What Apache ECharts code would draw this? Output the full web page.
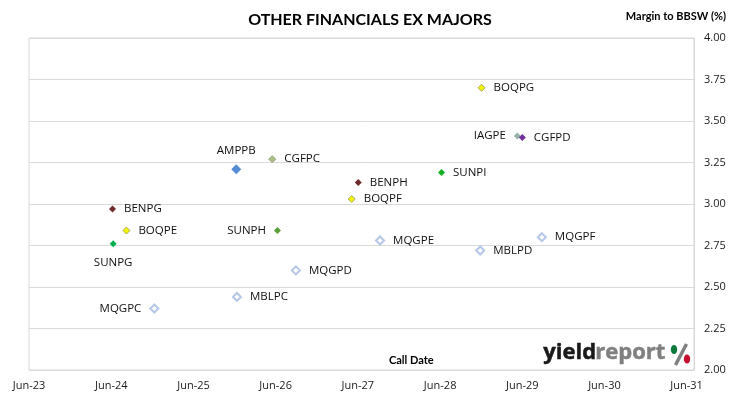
<!DOCTYPE html>
<html>
<head>
<meta charset="utf-8">
<script src="https://cdn.jsdelivr.net/npm/echarts@6/dist/echarts.min.js"></script>
<style>
html,body{margin:0;padding:0;background:#fff;}
#chart{width:730px;height:399px;}
</style>
</head>
<body>
<div id="chart"></div>
<script>
// ---- data ----
const bondNames = ['BENPG','SUNPG','BOQPE','MQGPC','AMPPB','MBLPC','CGFPC','SUNPH','MQGPD','BOQPF','BENPH','MQGPE','SUNPI','MBLPD','BOQPG','IAGPE','CGFPD','MQGPF'];
const callDates = ['2024-06-06','2024-06-09','2024-08-07','2024-12-09','2025-12-08','2025-12-11','2026-05-17','2026-06-09','2026-08-30','2027-05-05','2027-06-03','2027-09-08','2028-06-07','2028-11-26','2028-12-02','2029-05-10','2029-06-01','2029-08-27'];
const margins = [2.97,2.76,2.84,2.37,3.21,2.44,3.27,2.84,2.60,3.03,3.13,2.78,3.19,2.72,3.70,3.41,3.40,2.80];
const xTickDates = ['2023-06-01','2024-06-01','2025-06-01','2026-06-01','2027-06-01','2028-06-01','2029-06-01','2030-06-01','2031-06-01'];
const xTickLabels = ['Jun-23','Jun-24','Jun-25','Jun-26','Jun-27','Jun-28','Jun-29','Jun-30','Jun-31'];
const yMin = 2.0, yMax = 4.0, yStep = 0.25;

// ---- styles (kept separate from data) ----
const hollow = {fill:'#ffffff', border:'#B4C7E7', bw:2, size:8, hollow:true};
const styleMap = {
  BENPG:{fill:'#6E2B2B', size:7, pos:'right'},
  SUNPG:{fill:'#00B050', size:7, pos:'bottom'},
  BOQPE:{fill:'#F5F500', border:'#A8A860', bw:1, size:7, pos:'right'},
  MQGPC:Object.assign({pos:'left'}, hollow),
  AMPPB:{fill:'#558ED5', size:10, pos:'top'},
  MBLPC:Object.assign({pos:'right'}, hollow),
  CGFPC:{fill:'#AEBF88', border:'#9AA878', bw:1, size:7, pos:'right'},
  SUNPH:{fill:'#5AA03A', size:7, pos:'left'},
  MQGPD:Object.assign({pos:'right'}, hollow),
  BOQPF:{fill:'#F5F500', border:'#A8A860', bw:1, size:7, pos:'right'},
  BENPH:{fill:'#6E2B2B', size:7, pos:'right'},
  MQGPE:Object.assign({pos:'right'}, hollow),
  SUNPI:{fill:'#10B020', size:7, pos:'right'},
  MBLPD:Object.assign({pos:'right'}, hollow),
  BOQPG:{fill:'#F5F500', border:'#A8A860', bw:1, size:7, pos:'right'},
  IAGPE:{fill:'#95B3A8', size:7, pos:'left'},
  CGFPD:{fill:'#7030A0', size:7, pos:'right'},
  MQGPF:Object.assign({pos:'right'}, hollow)
};

const toTs = s => { const p = s.split('-').map(Number); return Date.UTC(p[0], p[1]-1, p[2]); };
const tickTs = xTickDates.map(toTs);

const seriesData = bondNames.map((n, i) => {
  const st = styleMap[n];
  const lbl = {show:true, position:st.pos, formatter:n, color:'#111', fontSize:11.5, fontFamily:'Open Sans'};
  if (st.pos === 'right') lbl.distance = 8;
  if (st.pos === 'left') lbl.distance = 8;
  if (st.pos === 'top') lbl.distance = 7;
  if (st.pos === 'bottom') lbl.distance = 9;
  return {
    name: n,
    value: [toTs(callDates[i]), margins[i]],
    symbolSize: st.size,
    itemStyle: {color: st.fill, borderColor: st.border || st.fill, borderWidth: st.bw || 0, opacity: 1},
    label: lbl
  };
});

const chart = echarts.init(document.getElementById('chart'), null, {renderer:'canvas'});
chart.setOption({
  animation:false,
  backgroundColor:'#ffffff',
  title:{
    text:'OTHER FINANCIALS EX MAJORS',
    left:365, top:7, textAlign:'center',
    textStyle:{fontFamily:'Lato', fontWeight:'bold', fontSize:16, color:'#000'}
  },
  grid:{left:29, right:36, top:38, bottom:29, show:true, borderColor:'#D9D9D9', borderWidth:1, containLabel:false},
  xAxis:{
    type:'value',
    min:toTs('2023-06-01'),
    max:toTs('2031-07-04'),
    axisLine:{show:false},
    axisTick:{show:false},
    splitLine:{show:false},
    axisLabel:{
      customValues: tickTs,
      formatter:(v) => { const k = tickTs.indexOf(v); return k >= 0 ? xTickLabels[k] : ''; },
      color:'#1a1a1a', fontSize:11, fontFamily:'Open Sans', margin:10
    }
  },
  yAxis:{
    type:'value', position:'right',
    min:yMin, max:yMax, interval:yStep,
    axisLine:{show:true, lineStyle:{color:'#D9D9D9'}},
    axisTick:{show:false},
    splitLine:{show:true, lineStyle:{color:'#D9D9D9', width:1}},
    axisLabel:{formatter:v => v.toFixed(2), color:'#1a1a1a', fontSize:11, fontFamily:'Open Sans', margin:10}
  },
  series:[{
    type:'scatter',
    symbol:'diamond',
    data:seriesData,
    labelLayout:{hideOverlap:false}
  }],
  graphic:[
    {type:'text', right:4, top:11, style:{text:'Margin to BBSW (%)', font:'bold 11px Lato', fill:'#000'}},
    {type:'text', left:389, top:355, style:{text:'Call Date', font:'bold 11px Lato', fill:'#000'}},
    {type:'text', left:543, top:341, style:{text:'yield', font:'bold 22px "Open Sans"', fill:'#1a1a1a', stroke:'#1a1a1a', lineWidth:0.5}},
    {type:'text', left:595, top:341, style:{text:'report', font:'bold 22px "Open Sans"', fill:'#808080', stroke:'#808080', lineWidth:0.5}},
    {type:'line', shape:{x1:675.5, y1:365, x2:686.5, y2:344}, style:{stroke:'#808080', lineWidth:3.5}},
    {type:'ellipse', shape:{cx:674, cy:349.5, rx:3.2, ry:4.5}, style:{fill:'#0B7A3B'}},
    {type:'ellipse', shape:{cx:687, cy:359, rx:3.2, ry:4.5}, style:{fill:'#C8102E'}}
  ]
});
</script>
</body>
</html>
